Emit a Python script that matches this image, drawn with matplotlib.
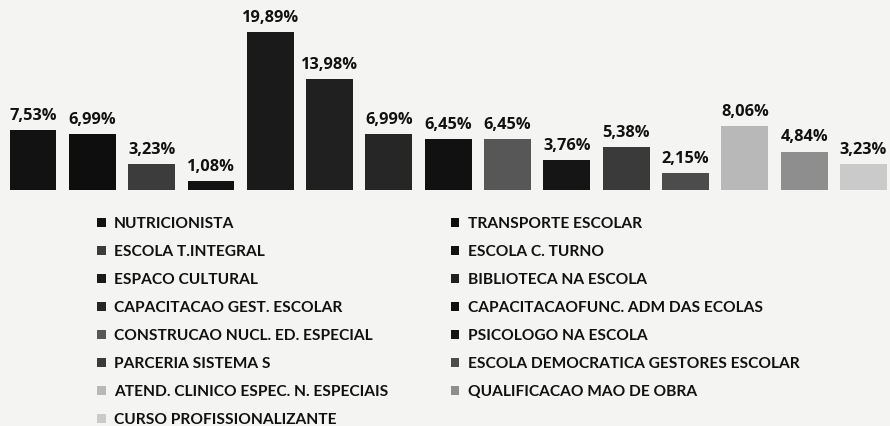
import matplotlib
matplotlib.use("Agg")
import matplotlib.pyplot as plt
from matplotlib.patches import Patch

categories = [
    "NUTRICIONISTA", "TRANSPORTE ESCOLAR", "ESCOLA T.INTEGRAL", "ESCOLA C. TURNO",
    "ESPACO CULTURAL", "BIBLIOTECA NA ESCOLA", "CAPACITACAO GEST. ESCOLAR",
    "CAPACITACAOFUNC. ADM DAS ECOLAS", "CONSTRUCAO NUCL. ED. ESPECIAL",
    "PSICOLOGO NA ESCOLA", "PARCERIA SISTEMA S", "ESCOLA DEMOCRATICA GESTORES ESCOLAR",
    "ATEND. CLINICO ESPEC. N. ESPECIAIS", "QUALIFICACAO MAO DE OBRA",
    "CURSO PROFISSIONALIZANTE",
]
values = [7.53, 6.99, 3.23, 1.08, 19.89, 13.98, 6.99, 6.45, 6.45, 3.76, 5.38, 2.15, 8.06, 4.84, 3.23]
colors = ["#121212", "#0e0e0e", "#3c3c3c", "#121212", "#1a1a1a", "#202020", "#262626",
          "#111111", "#575757", "#151515", "#3a3a3a", "#4c4c4c", "#b8b8b8", "#8e8e8e", "#cacaca"]

W, H = 890, 426
fig = plt.figure(figsize=(W / 100, H / 100), dpi=100, facecolor="#f4f4f2")
base_px = 190
ax = fig.add_axes([0, 1 - base_px / H, 1, base_px / H])
ax.set_facecolor("none")
x = list(range(len(values)))
ax.bar(x, values, width=0.79, color=colors)
ax.set_xlim(-33 / 59.32, 14 + (890 - 863.5) / 59.32)
ax.set_ylim(0, base_px / 7.94)
for xi, v in zip(x, values):
    ax.annotate(f"{v:.2f}".replace(".", ",") + "%", (xi, v), xytext=(0, 4.5),
                textcoords="offset points", ha="center", va="bottom",
                fontsize=11.8, fontweight="bold", family="Open Sans", color="#111111")
ax.axis("off")

order = [i for i in range(0, 15, 2)] + [i for i in range(1, 15, 2)]
handles = [Patch(facecolor=colors[i], edgecolor="none") for i in order]
labels = [categories[i] for i in order]
leg = fig.legend(handles, labels, ncol=2, loc="upper left", bbox_to_anchor=(97 / W, 1 - 217 / H),
                 frameon=False, handlelength=0.55, handleheight=0.55, handletextpad=0.55,
                 columnspacing=4.0, labelspacing=0.9, borderpad=0, borderaxespad=0,
                 prop={"family": "Lato", "weight": "bold", "size": 11.2})
for t in leg.get_texts():
    t.set_color("#111111")

fig.savefig("out.png", dpi=100, facecolor=fig.get_facecolor())
